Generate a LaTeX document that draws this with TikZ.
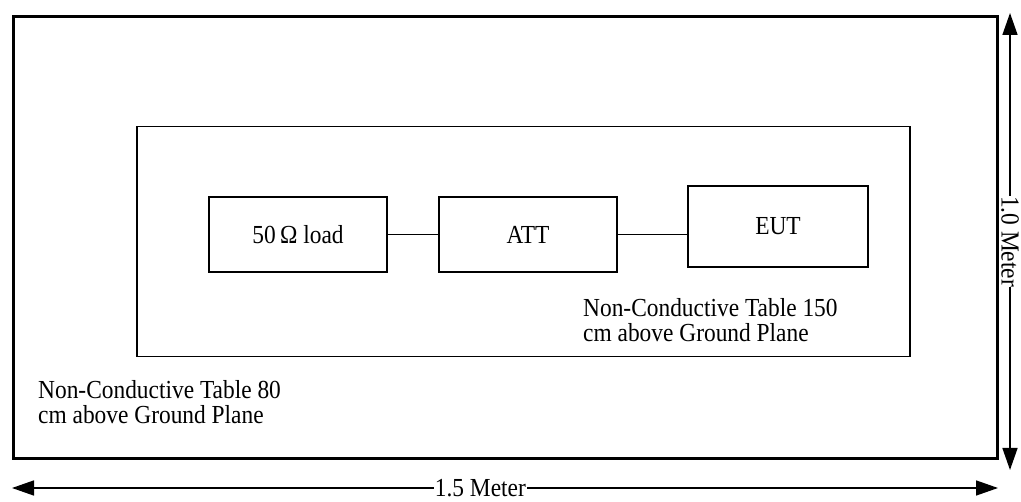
\documentclass[tikz,border=0pt]{standalone}
\usepackage{fontspec}
\setmainfont{Liberation Serif}[FakeStretch=0.9]
\usetikzlibrary{arrows.meta}
\begin{document}
\begin{tikzpicture}[x=1pt,y=-1pt,
  box/.style={draw,line width=1.5pt,inner sep=0pt,font=\fontsize{26}{27}\selectfont},
  lbl/.style={align=left,anchor=north west,inner sep=0pt,font=\fontsize{26}{25.5}\selectfont},
  dim/.style={line width=1.5pt,{Triangle[length=22pt,width=15pt]}-{Triangle[length=22pt,width=15pt]}},
  dimtext/.style={fill=white,inner sep=1pt,font=\fontsize{26}{27}\selectfont}]
\useasboundingbox (0,0) rectangle (1021,502);
% outer table
\node[draw,line width=3pt,minimum width=984pt,minimum height=442pt,anchor=north west,inner sep=0pt] (outer) at (12,15) {};
% inner table
\node[draw,line width=1.5pt,minimum width=773pt,minimum height=230pt,anchor=north west,inner sep=0pt] (inner) at (136,126) {};
% equipment
\node[box,minimum width=178pt,minimum height=75pt] (load) at (298,234.5) {50\,Ω load};
\node[box,minimum width=178pt,minimum height=75pt] (att) at (528,234.5) {ATT};
\node[box,minimum width=180pt,minimum height=81pt] (eut) at (778,226.5) {EUT};
\draw[line width=1.5pt] (load.east) -- (att.west);
\draw[line width=1.5pt] (att.east) -- (att.east -| eut.west);
% labels
\node[lbl] (l150) at (583,298) {Non-Conductive Table 150\\cm above Ground Plane};
\node[lbl] (l80) at (38,380) {Non-Conductive Table 80\\cm above Ground Plane};
% dimensions
\coordinate (hl) at (12,488);
\coordinate (hr) at (998,488);
\draw[dim] (hl) -- node[dimtext,pos=0.475] (htext) {1.5 Meter} (hr);
\coordinate (vt) at (1010,13);
\coordinate (vb) at (1010,470);
\draw[dim] (vt) -- node[dimtext,rotate=-90,inner sep=0.5pt] (vtext) {1.0 Meter} (vb);
\end{tikzpicture}
\end{document}
